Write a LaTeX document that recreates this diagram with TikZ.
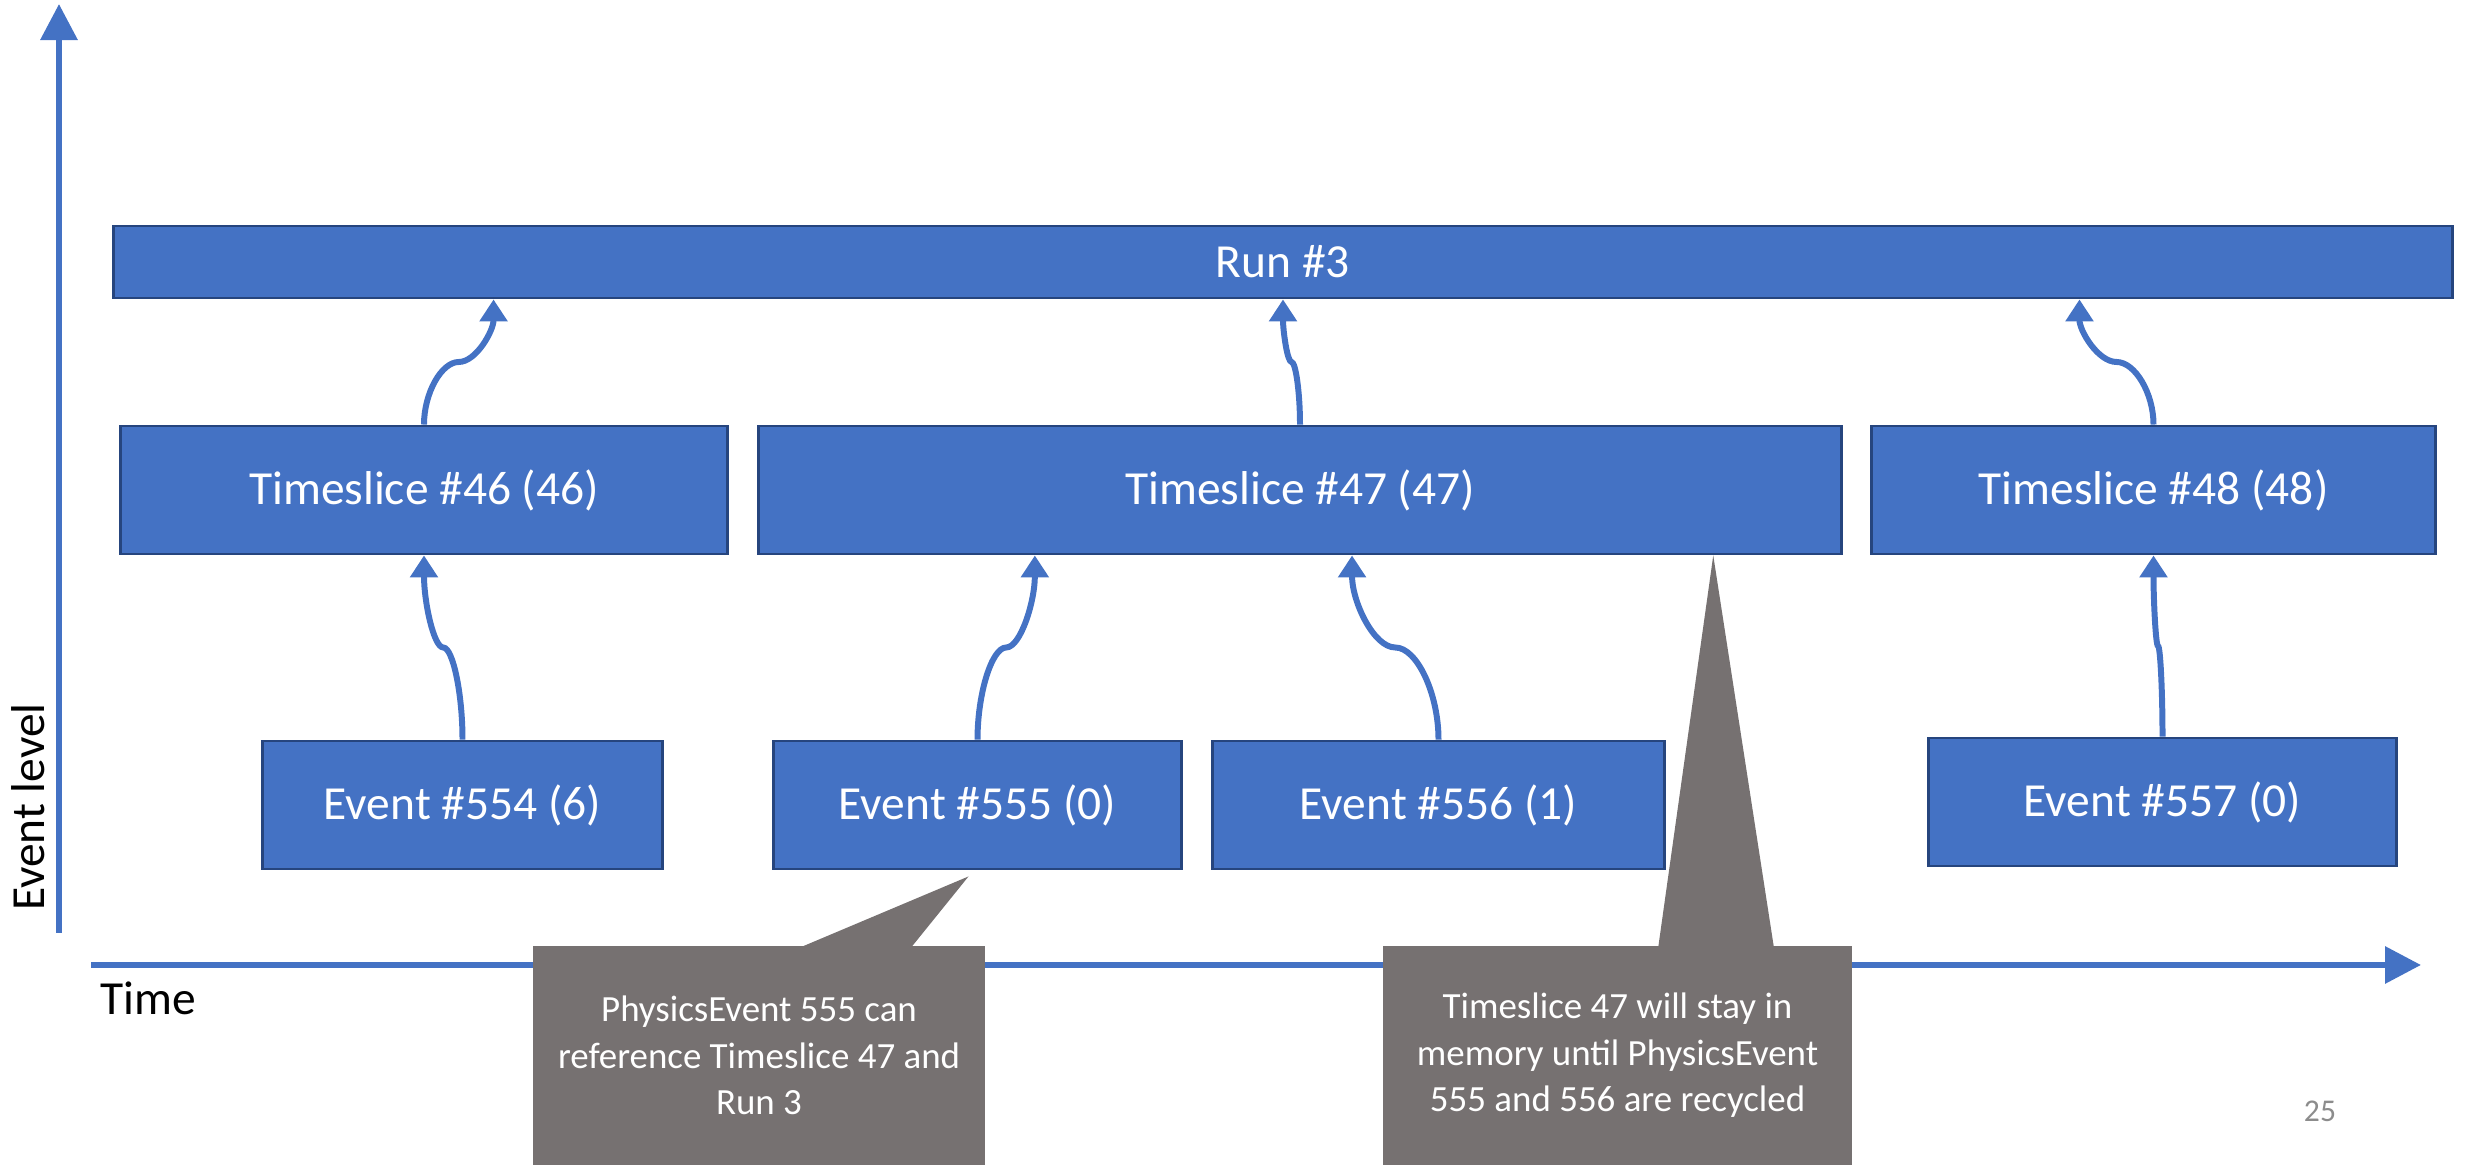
\documentclass[tikz,border=0pt]{standalone}
\usepackage{fontspec}
\setmainfont{Carlito}
\usetikzlibrary{arrows.meta,calc}
\definecolor{boxblue}{HTML}{4472C4}
\definecolor{boxedge}{HTML}{26457E}
\definecolor{notegray}{HTML}{767171}
\definecolor{numgray}{HTML}{8C8C8C}

% curved hop from one box up to the next level
\newcommand{\hoplink}[2]{%
  \path[link] let \p1=(#1), \p2=(#2) in
    (\p1) .. controls (\x1,{\y1+(\y2-\y1)/4}) and ({\x1+(\x2-\x1)/4},{(\y1+\y2)/2})
    .. ({(\x1+\x2)/2},{(\y1+\y2)/2})
    .. controls ({\x1+3*(\x2-\x1)/4},{(\y1+\y2)/2}) and (\x2,{\y1+3*(\y2-\y1)/4}) .. (\p2);}

\begin{document}
\begin{tikzpicture}[x=0.01cm,y=-0.01cm,
    slot/.style={draw=boxedge,line width=0.8pt,fill=boxblue,text=white,inner sep=0pt,
      minimum height=1.28cm,font=\fontsize{13.5}{16}\selectfont},
    note/.style={fill=notegray,text=white,inner sep=0pt,align=center,
      font=\fontsize{10.5}{13.2}\selectfont},
    link/.style={draw=boxblue,line width=1.7pt,-{Triangle[width=0.27cm,length=0.22cm]}},
    axis/.style={draw=boxblue,line width=1.8pt,-{Triangle[width=0.36cm,length=0.36cm]}},
    lbl/.style={inner sep=0pt,font=\fontsize{13.5}{16}\selectfont}]
  \useasboundingbox (0,0) rectangle (2473,1165);
  % axes
  \coordinate (yfoot) at (59,933);
  \coordinate (ytop) at (59,4);
  \coordinate (xfoot) at (91,965);
  \coordinate (xtip) at (2421,965);
  \path[axis] (yfoot)--(ytop);
  \path[axis] (xfoot)--(xtip);
  \node[lbl,rotate=90] (ylab) at (28,807) {Event level};
  \node[lbl,anchor=base west] (xlab) at (100,1015) {Time};
  % levels
  \node[slot,minimum width=23.38cm,minimum height=0.72cm] (run) at (1283,262) {Run \#3};
  \node[slot,minimum width=6.06cm] (ts46) at (424,490) {Timeslice \#46 (46)};
  \node[slot,minimum width=10.82cm] (ts47) at (1300,490) {Timeslice \#47 (47)};
  \node[slot,minimum width=5.63cm] (ts48) at (2153.5,490) {Timeslice \#48 (48)};
  \node[slot,minimum width=3.99cm] (ev554) at (462.5,805) {Event \#554 (6)};
  \node[slot,minimum width=4.07cm] (ev555) at (977.5,805) {Event \#555 (0)};
  \node[slot,minimum width=4.51cm] (ev556) at (1438.5,805) {Event \#556 (1)};
  \node[slot,minimum width=4.67cm] (ev557) at (2162.5,802) {Event \#557 (0)};
  % parent links
  \hoplink{ev554.north}{ts46.south}
  \hoplink{ev555.north}{[xshift=-2.65cm]ts47.south}
  \hoplink{ev556.north}{[xshift=0.52cm]ts47.south}
  \hoplink{ev557.north}{ts48.south}
  \hoplink{ts46.north}{[xshift=-7.89cm]run.south}
  \hoplink{ts47.north}{run.south}
  \hoplink{ts48.north}{[xshift=7.96cm]run.south}
  % callouts
  \node[note,minimum width=4.52cm,minimum height=2.19cm] (note1) at (759,1055.5)
    {PhysicsEvent 555 can\\reference Timeslice 47 and\\Run 3};
  \coordinate (tip1) at ([shift={(-9,6)}]ev555.south);
  \path[fill=notegray] ([xshift=0.38cm,yshift=-1pt]note1.north)--(tip1)--([xshift=1.51cm,yshift=-1pt]note1.north)--cycle;
  \node[note,minimum width=4.69cm,minimum height=2.19cm] (note2) at (1617.5,1055.5)
    {Timeslice 47 will stay in\\memory until PhysicsEvent\\555 and 556 are recycled};
  \coordinate (tip2) at ([xshift=4.13cm]ts47.south);
  \path[fill=notegray] ([xshift=0.405cm,yshift=-1pt]note2.north)--(tip2)--([xshift=1.565cm,yshift=-1pt]note2.north)--cycle;
  \node[anchor=base,inner sep=0pt,text=numgray,font=\fontsize{9}{10}\selectfont] (pnum) at (2320,1122) {25};
\end{tikzpicture}
\end{document}
